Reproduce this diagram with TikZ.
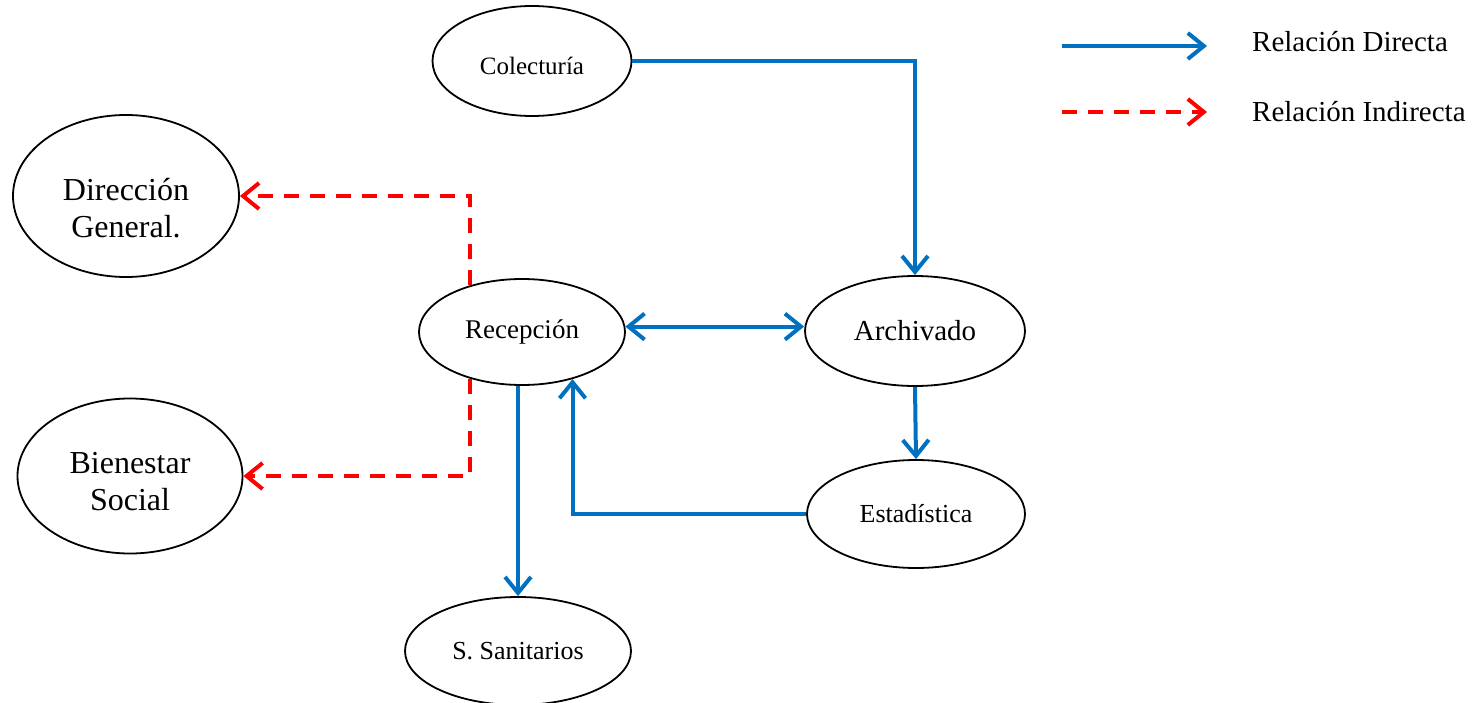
\documentclass[tikz,border=0pt]{standalone}
\usepackage{fontspec}
\setmainfont{Liberation Serif}
\usetikzlibrary{shapes.geometric,arrows.meta}
\definecolor{linkblue}{HTML}{0070C0}
\definecolor{linkred}{HTML}{FF0000}
\begin{document}
\begin{tikzpicture}[x=1pt,y=-1pt,
  unit/.style={ellipse, draw=black, line width=1.8pt, inner sep=0pt, align=center,
    font=\fontsize{#1}{37}\selectfont},
  unit/.default=26,
  unittext/.style={inner sep=0pt, align=center, font=\fontsize{32}{37}\selectfont},
  barb/.tip={Straight Barb[length=16pt,width=26pt]},
  direct/.style={draw=linkblue, line width=4pt, -barb},
  indirect/.style={draw=linkred, line width=4pt, dash pattern=on 15pt off 11pt, -barb},
  legendtext/.style={anchor=west, inner sep=0pt, font=\fontsize{29}{34}\selectfont}
]
\useasboundingbox (0,0) rectangle (1477,703);

% units of the organisation
\node[unit=25, minimum width=199pt, minimum height=110pt] (colec) at (532,61) {};
\node[unittext, font=\fontsize{25}{30}\selectfont] (colectext) at (532,66) {Colecturía};
\node[unit, minimum width=226pt, minimum height=162pt] (dir) at (126,196) {};
\node[unittext] (dirtext) at (126,208) {Dirección\\General.};
\node[unit, minimum width=225pt, minimum height=155pt] (bien) at (130,476) {};
\node[unittext] (bientext) at (130,482) {Bienestar\\Social};
\node[unit=27, minimum width=206pt, minimum height=106pt] (recep) at (522,332) {Recepción};
\node[unit=29, minimum width=220pt, minimum height=110pt] (arch) at (915,331) {Archivado};
\node[unit=26, minimum width=218pt, minimum height=108pt] (estad) at (916,514) {Estadística};
\node[unit=26, minimum width=226pt, minimum height=108pt] (sanit) at (518,651) {S. Sanitarios};

% direct relations
\draw[direct] (colec.east) -| (arch.north);
\draw[direct, barb-barb] (recep.3) -- (arch.west |- recep.3);
\draw[direct] (arch.south) -- (estad.north);
\draw[direct] (estad.west) -| (recep.-43);
\draw[direct] (sanit.north |- recep.south) -- (sanit.north);

% indirect relations
\draw[indirect] (recep.138.5) |- (dir.east);
\draw[indirect] (recep.-138.5) |- (bien.east);

% legend
\coordinate (l1a) at (1062,46);
\coordinate (l1b) at (1207,46);
\coordinate (l2a) at (1062,112);
\coordinate (l2b) at (1207,112);
\draw[direct] (l1a) -- (l1b);
\draw[indirect] (l2a) -- (l2b);
\node[legendtext] (ldir) at (1252,42) {Relación Directa};
\node[legendtext] (lind) at (1252,112) {Relación Indirecta};
\end{tikzpicture}
\end{document}
